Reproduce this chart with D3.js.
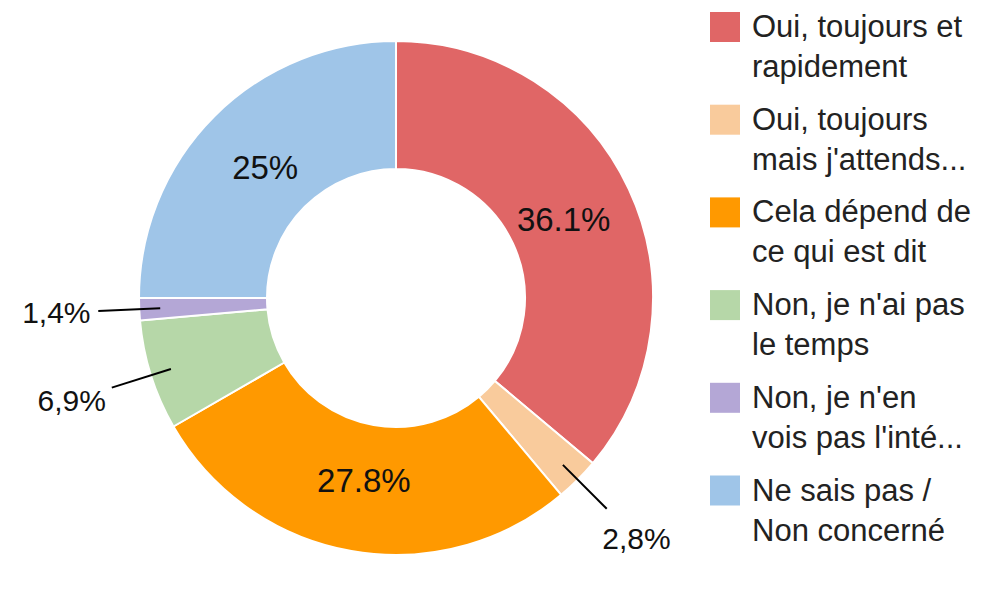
<!DOCTYPE html>
<html>
<head>
<meta charset="utf-8">
<script src="https://cdn.jsdelivr.net/npm/d3@7"></script>
<style>
  body { margin: 0; background: #fff; }
  svg { display: block; font-family: "Liberation Sans", Arial, sans-serif; }
</style>
</head>
<body>
<svg id="chart" width="985" height="589"></svg>
<script>
// data (answers out of 72)
const categories = ["Oui, toujours et rapidement", "Oui, toujours mais j'attends...", "Cela dépend de ce qui est dit",
  "Non, je n'ai pas le temps", "Non, je n'en vois pas l'inté...", "Ne sais pas / Non concerné"];
const legendLines = [["Oui, toujours et", "rapidement"], ["Oui, toujours", "mais j'attends..."], ["Cela dépend de", "ce qui est dit"],
  ["Non, je n'ai pas", "le temps"], ["Non, je n'en", "vois pas l'inté..."], ["Ne sais pas /", "Non concerné"]];
const values = [26, 2, 20, 5, 1, 18];
const sliceLabels = ["36.1%", "2,8%", "27.8%", "6,9%", "1,4%", "25%"];
const colors = ["#e06666", "#f9cb9c", "#ff9900", "#b6d7a8", "#b4a7d6", "#9fc5e8"];

// layout
const cx = 396, cy = 298;
const outerR = 257, innerR = 129;

const svg = d3.select("#chart");
const g = svg.append("g").attr("transform", "translate(" + cx + "," + cy + ")");

const total = d3.sum(values);
const pie = d3.pie().sort(null).value(d => d);
const arcs = pie(values);

const arc = d3.arc().innerRadius(innerR).outerRadius(outerR);
const color = d3.scaleOrdinal().domain(categories).range(colors);

// slices
g.selectAll("path.slice")
  .data(arcs)
  .enter()
  .append("path")
    .attr("class", "slice")
    .attr("d", arc)
    .attr("fill", (d, i) => color(categories[i]))
    .attr("stroke", "#fff")
    .attr("stroke-width", 2);

// point on a given radius at the middle of a slice
function polar(d, r) {
  const a = (d.startAngle + d.endAngle) / 2;
  return [r * Math.sin(a), -r * Math.cos(a)];
}
const isSmall = d => d.value / total < 0.1;

// labels inside the big slices
g.selectAll("text.inside")
  .data(arcs.filter(d => !isSmall(d)))
  .enter()
  .append("text")
    .attr("class", "inside")
    .attr("x", d => polar(d, 185)[0])
    .attr("y", d => polar(d, 185)[1])
    .attr("text-anchor", "middle")
    .attr("dominant-baseline", "central")
    .attr("font-size", 33)
    .attr("fill", "#111")
    .text(d => sliceLabels[d.index]);

// leader lines + labels for the small slices
const small = arcs.filter(isSmall);
g.selectAll("line.leader")
  .data(small)
  .enter()
  .append("line")
    .attr("class", "leader")
    .attr("x1", d => polar(d, 236)[0])
    .attr("y1", d => polar(d, 236)[1])
    .attr("x2", d => polar(d, 298)[0])
    .attr("y2", d => polar(d, 298)[1])
    .attr("stroke", "#000")
    .attr("stroke-width", 2);

g.selectAll("text.outside")
  .data(small)
  .enter()
  .append("text")
    .attr("class", "outside")
    .attr("x", d => polar(d, 340)[0])
    .attr("y", d => polar(d, 340)[1])
    .attr("text-anchor", "middle")
    .attr("dominant-baseline", "central")
    .attr("font-size", 30)
    .attr("fill", "#111")
    .text(d => sliceLabels[d.index]);

// legend
const rowY = d3.scaleLinear().domain([0, 1]).range([12, 104.7]);
const legend = svg.selectAll("g.legend")
  .data(categories)
  .enter()
  .append("g")
    .attr("class", "legend")
    .attr("transform", (d, i) => "translate(710," + rowY(i) + ")");

legend.append("rect")
  .attr("width", 30)
  .attr("height", 30)
  .attr("fill", d => color(d));

legend.each(function(d, i) {
  const t = d3.select(this).append("text")
    .attr("font-size", 31)
    .attr("fill", "#222");
  legendLines[i].forEach((line, k) => {
    t.append("tspan")
      .attr("x", 42)
      .attr("y", 25 + k * 40)
      .text(line);
  });
});
</script>
</body>
</html>
